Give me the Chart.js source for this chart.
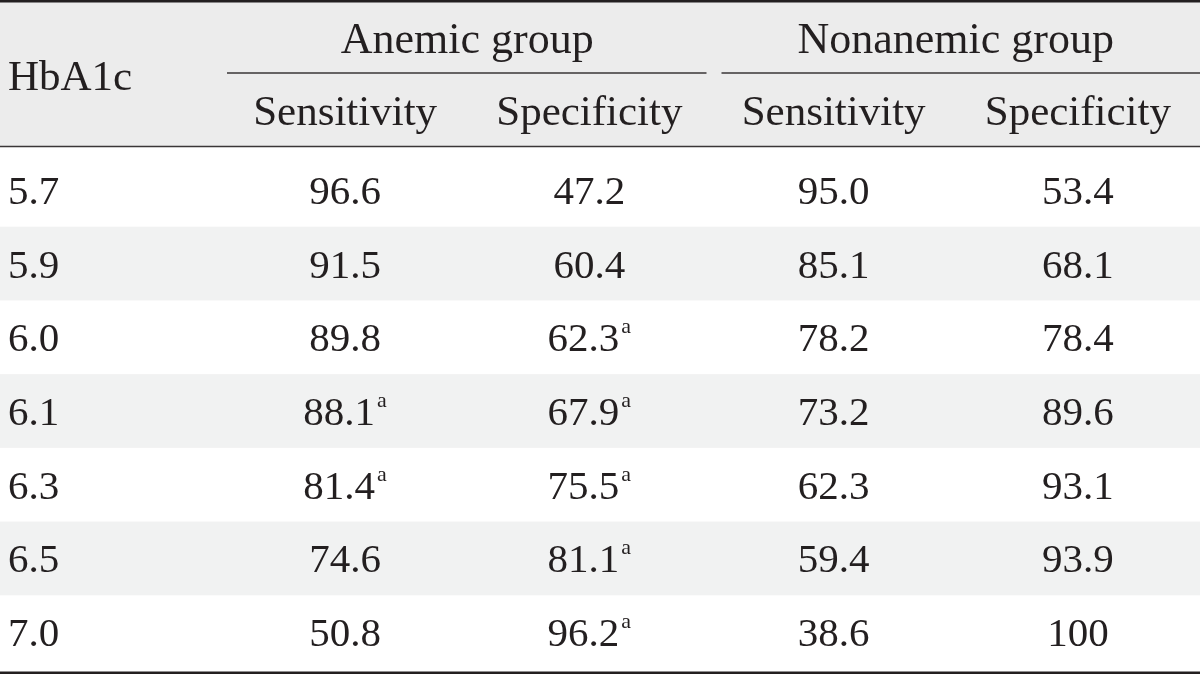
<!DOCTYPE html>
<html>
<head>
<meta charset="utf-8">
<script src="https://cdn.jsdelivr.net/npm/chart.js@4"></script>
<style>
html, body { margin: 0; padding: 0; background: #fff; }
#wrap { width: 1200px; height: 674px; position: relative; }
</style>
</head>
<body>
<div id="wrap"><canvas id="tbl"></canvas></div>
<script>
// table content
const rowTitle = 'HbA1c';
const rowLabels = ['5.7', '5.9', '6.0', '6.1', '6.3', '6.5', '7.0'];
const groupTitles = ['Anemic group', 'Nonanemic group'];
const colKeys = ['anSens', 'anSpec', 'nonSens', 'nonSpec'];
const colTitles = ['Sensitivity', 'Specificity', 'Sensitivity', 'Specificity'];

const anemicSens = [96.6, 91.5, 89.8, 88.1, 81.4, 74.6, 50.8];
const anemicSpec = [47.2, 60.4, 62.3, 67.9, 75.5, 81.1, 96.2];
const nonSens = [95.0, 85.1, 78.2, 73.2, 62.3, 59.4, 38.6];
const nonSpec = [53.4, 68.1, 78.4, 89.6, 93.1, 93.9, 100];

// superscript "a" marks
const anemicSensMark = [false, false, false, true, true, false, false];
const anemicSpecMark = [false, false, true, true, true, true, true];
const nonSensMark = [false, false, false, false, false, false, false];
const nonSpecMark = [false, false, false, false, false, false, false];

const columns = [anemicSens, anemicSpec, nonSens, nonSpec];
const marks = [anemicSensMark, anemicSpecMark, nonSensMark, nonSpecMark];

const ink = '#231f20';
const headFill = '#ececec';
const stripeFill = '#f1f2f2';
const FONT = 'Liberation Serif, Times New Roman, serif';
const SIZE = 41;

function fmt(v) {
    return v === 100 ? '100' : v.toFixed(1);
}

const tablePlugin = {
    id: 'tablePlugin',
    beforeDatasetsDraw(chart) {
        const ctx = chart.ctx;
        const y = chart.scales.y;
        const W = chart.width;
        const band = y.getPixelForValue(1) - y.getPixelForValue(0);
        ctx.save();
        // header background
        ctx.fillStyle = headFill;
        ctx.fillRect(0, 0, W, 147);
        // zebra rows
        ctx.fillStyle = stripeFill;
        rowLabels.forEach((r, i) => {
            if (i % 2 === 1) {
                const c = y.getPixelForValue(i);
                ctx.fillRect(0, c - band / 2, W, band);
            }
        });
        ctx.restore();
    },
    afterDatasetsDraw(chart) {
        const ctx = chart.ctx;
        const x = chart.scales.x;
        const y = chart.scales.y;
        const W = chart.width;
        const colW = x.getPixelForValue(1) - x.getPixelForValue(0);
        ctx.save();

        // rules
        ctx.strokeStyle = ink;
        ctx.lineWidth = 2.6;
        ctx.beginPath();
        ctx.moveTo(0, 1.3); ctx.lineTo(W, 1.3);
        ctx.moveTo(0, 672.7); ctx.lineTo(W, 672.7);
        ctx.stroke();

        ctx.lineWidth = 1.3;
        ctx.strokeStyle = '#3a3637';
        ctx.beginPath();
        ctx.moveTo(0, 146.5); ctx.lineTo(W, 146.5);
        ctx.stroke();

        // group titles and underlines
        ctx.fillStyle = ink;
        ctx.font = '44px ' + FONT;
        ctx.textBaseline = 'alphabetic';
        ctx.textAlign = 'center';
        groupTitles.forEach((g, k) => {
            const left = x.getPixelForValue(k * 2) - colW / 2;
            const right = x.getPixelForValue(k * 2 + 1) + colW / 2;
            ctx.fillText(g, (left + right) / 2, 53);
            const l0 = k === 0 ? left + 4 : left + 10;
            const r0 = right >= W - 1 ? W : right - 5;
            ctx.beginPath();
            ctx.moveTo(l0, 73); ctx.lineTo(r0, 73);
            ctx.stroke();
        });

        // column titles
        ctx.font = '43px ' + FONT;
        colTitles.forEach((t, c) => {
            ctx.fillText(t, x.getPixelForValue(c), 125);
        });

        // row header
        ctx.textAlign = 'left';
        ctx.fillText(rowTitle, 8, 90);

        // row labels
        ctx.font = SIZE + 'px ' + FONT;
        rowLabels.forEach((r, i) => {
            ctx.fillText(r, 8, y.getPixelForValue(i) + SIZE * 0.34);
        });

        // cell values, placed on the dataset points
        chart.data.datasets.forEach((ds, c) => {
            const meta = chart.getDatasetMeta(c);
            meta.data.forEach((pt, i) => {
                const txt = fmt(columns[c][i]);
                const base = pt.y + SIZE * 0.34;
                ctx.font = SIZE + 'px ' + FONT;
                const w = ctx.measureText(txt).width;
                let supW = 0;
                if (marks[c][i]) {
                    ctx.font = '22px ' + FONT;
                    supW = ctx.measureText('a').width + 2;
                }
                const start = pt.x - (w + supW) / 2;
                ctx.textAlign = 'left';
                ctx.font = SIZE + 'px ' + FONT;
                ctx.fillText(txt, start, base);
                if (marks[c][i]) {
                    ctx.font = '22px ' + FONT;
                    ctx.fillText('a', start + w + 2, base - 18);
                }
            });
        });

        ctx.restore();
    }
};

new Chart(document.getElementById('tbl'), {
    type: 'scatter',
    data: {
        datasets: colKeys.map((k, c) => ({
            label: colTitles[c],
            data: rowLabels.map((r) => ({ x: k, y: r })),
            pointRadius: 0,
            pointHoverRadius: 0
        }))
    },
    options: {
        responsive: true,
        maintainAspectRatio: false,
        animation: false,
        layout: { padding: { top: 153, bottom: 5, left: 223, right: 0 } },
        plugins: {
            legend: { display: false },
            tooltip: { enabled: false }
        },
        scales: {
            x: { type: 'category', labels: colKeys, offset: true, display: false },
            y: { type: 'category', labels: rowLabels, offset: true, display: false }
        }
    },
    plugins: [tablePlugin]
});
</script>
</body>
</html>
